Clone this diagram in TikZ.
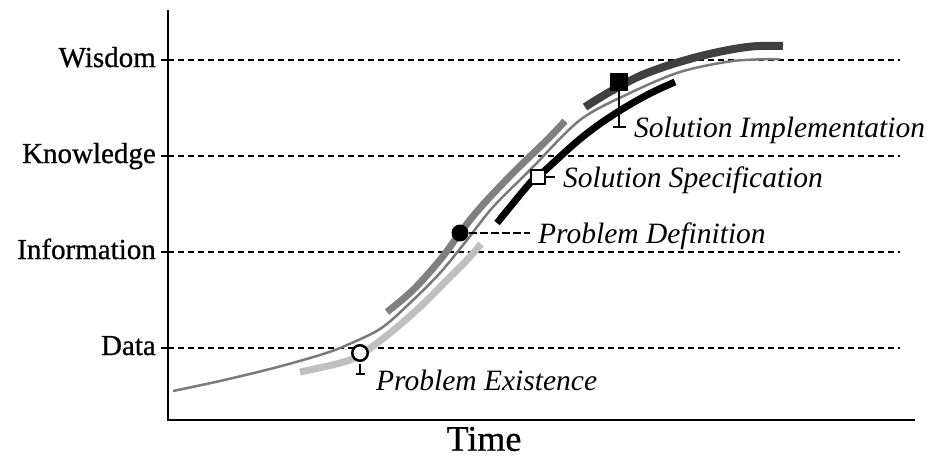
\documentclass[tikz,border=0pt]{standalone}
\usepackage{fontspec}
\setmainfont{Liberation Serif}
\newfontfamily\levelfont{Liberation Serif}[FakeBold=0.8]
\usetikzlibrary{positioning,calc}
\definecolor{dikwthin}{HTML}{7A7A7A}
\definecolor{dikwlight}{HTML}{C0C0C0}
\definecolor{dikwmid}{HTML}{808080}
\definecolor{dikwdark}{HTML}{404040}
\begin{document}
\begin{tikzpicture}[x=1pt,y=-1pt,
  axis/.style={draw=black,line width=2.5pt},
  guide/.style={draw=black,line width=2.5pt,dash pattern=on 6pt off 4pt},
  level/.style={anchor=base east,inner sep=0pt,font=\levelfont\fontsize{29}{31}\selectfont},
  stage/.style={line width=7pt},
  opendot/.style={circle,draw=black,line width=2.5pt,fill=white,minimum size=15.5pt,inner sep=0pt},
  filldot/.style={circle,fill=black,minimum size=17pt,inner sep=0pt},
  openbox/.style={rectangle,draw=black,line width=2.5pt,fill=white,minimum size=14pt,inner sep=0pt},
  fillbox/.style={rectangle,fill=black,minimum size=18pt,inner sep=0pt},
  note/.style={anchor=west,inner xsep=8pt,inner ysep=0pt,text depth=0pt,font=\fontsize{29.5}{31}\selectfont\itshape},
  leader/.style={draw=black,line width=1.5pt}]
\useasboundingbox (0,0) rectangle (935,458);
% axes
\coordinate (top) at (168,10);
\coordinate (origin) at (168,420);
\coordinate (right) at (915,420);
\draw[axis] (top) -- (origin) -- (right);
\node[font=\levelfont\fontsize{36}{40}\selectfont] (time) at (484,439) {Time};
% levels
\foreach \name/\y in {Wisdom/60,Knowledge/156,Information/252,Data/348}{
  \node[level] (\name) at (156,\y+7) {\name};
  \coordinate (\name end) at (900,\y);
  \draw[axis] (161,\y) -- (168,\y);
  \draw[guide] (168,\y) -- (\name end);
}
% overall curve
\draw[dikwthin,line width=2.5pt] plot[smooth,tension=0.5] coordinates {
  (173,391) (220,381) (270,369) (310,358) (340,348) (380,329) (410,303)
  (440,273) (467,240) (493,207) (530,170) (580,120) (630,93) (680,72)
  (733,61) (780,59)};
% stages
\draw[stage,dikwlight] plot[smooth,tension=0.6] coordinates {
  (300,372) (340,363) (360,355) (390,333) (420,307) (447,280) (467,260) (481,244)};
\draw[stage,dikwmid] plot[smooth,tension=0.6] coordinates {
  (387,312) (413,290) (440,260) (460,233) (480,208) (513,173) (547,140) (565,121)};
\draw[stage,black] plot[smooth,tension=0.6] coordinates {
  (497,223) (530,183) (540,175) (580,139) (613,115) (647,95) (675,82)};
\draw[stage,dikwdark,line width=8pt] plot[smooth,tension=0.6] coordinates {
  (585,107) (613,90) (647,73) (697,57) (747,47) (783,46)};
% markers
\node[opendot] (exist) at (360,353) {};
\node[filldot] (defn) at (460,233) {};
\node[openbox] (spec) at (538,177) {};
\node[fillbox] (impl) at (619,82) {};
% labels
\node[note] (existlbl) at (368,380) {Problem Existence};
\node[note] (defnlbl) at (530,233) {Problem Definition};
\node[note] (speclbl) at (555,177) {Solution Specification};
\node[note] (impllbl) at (626,127) {Solution Implementation};
\draw[leader] ([yshift=-2pt]exist.south) -- ++(0,10) ++(-4,0) -- ++(9,0);
\draw[leader,dash pattern=on 8pt off 3pt] (defn.east) -- (defnlbl.west);
\draw[leader] (spec.east) -- (speclbl.west);
\draw[leader] (impl.south) -- (impl.south |- impllbl.west) ++(-6,0) -- (impllbl.west);
\end{tikzpicture}
\end{document}
